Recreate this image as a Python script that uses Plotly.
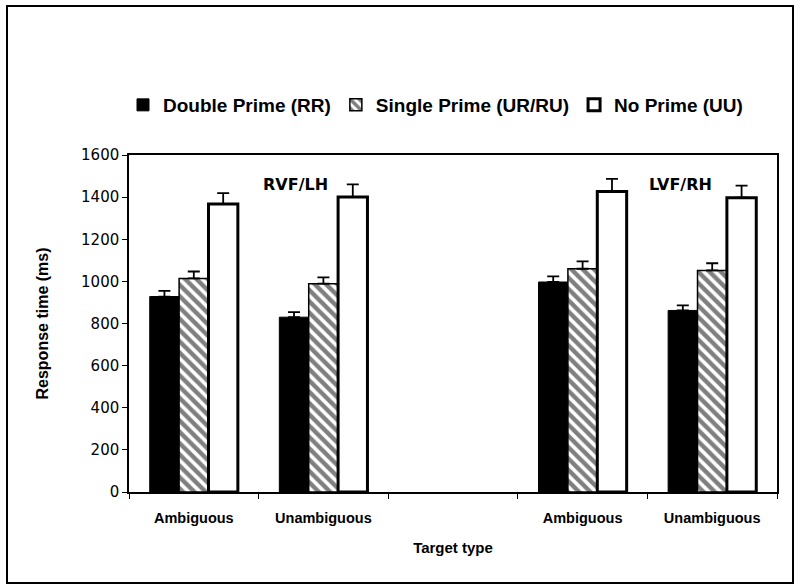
import plotly.graph_objects as go

categories = ["Ambiguous", "Unambiguous", "", "Ambiguous", "Unambiguous"]
positions = [0, 1, 3, 4]
double_prime = [928, 830, 997, 862]
double_err = [27, 24, 27, 24]
single_prime = [1014, 989, 1060, 1052]
single_err = [33, 30, 35, 34]
no_prime = [1367, 1401, 1427, 1397]
no_err = [52, 60, 60, 58]
series_names = ["Double Prime (RR)", "Single Prime (UR/RU)", "No Prime (UU)"]
y_ticks = [0, 200, 400, 600, 800, 1000, 1200, 1400, 1600]
panel_labels = ["RVF/LH", "LVF/RH"]

BOLD = "Liberation Sans, Arial, sans-serif"
VERD = "DejaVu Sans, Verdana, sans-serif"

def err(vals):
    return dict(type="data", array=vals, arrayminus=[0] * len(vals), symmetric=False,
                color="black", thickness=1.8, width=6)

fig = go.Figure()
fig.add_trace(go.Bar(x=positions, y=double_prime, name=series_names[0],
                     marker=dict(color="black", line=dict(color="black", width=1)),
                     error_y=err(double_err)))
fig.add_trace(go.Bar(x=positions, y=single_prime, name=series_names[1],
                     marker=dict(color="white", line=dict(color="black", width=1.5),
                                 pattern=dict(shape="\\", fgcolor="black", bgcolor="white",
                                              size=8, solidity=0.55)),
                     error_y=err(single_err)))
fig.add_trace(go.Bar(x=positions, y=no_prime, name=series_names[2],
                     marker=dict(color="white", line=dict(color="black", width=3)),
                     error_y=err(no_err)))

L, R, T, B = 129, 23, 155, 96
W, H = 800, 588
pw, ph = W - L - R, H - T - B
def px(xp): return (xp - L) / pw
def py(yp): return (H - B - yp) / ph

fig.add_annotation(x=px(295), y=py(184), xref="paper", yref="paper", text=panel_labels[0],
                   xanchor="center", yanchor="middle", showarrow=False,
                   font=dict(family=VERD, size=16, color="black", weight="bold"))
fig.add_annotation(x=px(680), y=py(184), xref="paper", yref="paper", text=panel_labels[1],
                   xanchor="center", yanchor="middle", showarrow=False,
                   font=dict(family=VERD, size=16, color="black", weight="bold"))

fig.add_shape(type="rect", xref="paper", yref="paper",
              x0=px(7), x1=px(793), y0=py(583), y1=py(6),
              line=dict(color="black", width=2), fillcolor="rgba(0,0,0,0)", layer="below")

fig.update_layout(
    width=W, height=H,
    margin=dict(l=L, r=R, t=T, b=B),
    paper_bgcolor="white", plot_bgcolor="white",
    barmode="group", bargap=0.32, bargroupgap=0,
    showlegend=True,
    legend=dict(orientation="h", x=px(123), xanchor="left", y=py(105), yanchor="middle",
                font=dict(family=BOLD, size=19, color="black", weight="bold"),
                itemwidth=30, tracegroupgap=0, bgcolor="rgba(0,0,0,0)"),
    xaxis=dict(range=[-0.5, 4.5], tickmode="array", tickvals=list(range(len(categories))),
               ticktext=categories, ticks="", showline=True, mirror=True,
               linecolor="black", linewidth=1.5,
               showgrid=False, zeroline=False, ticklabelstandoff=12,
               tickfont=dict(family=BOLD, size=14.5, color="black", weight="bold"),
               minor=dict(tickmode="linear", tick0=-0.5, dtick=1, ticks="outside",
                          ticklen=5, tickcolor="black", showgrid=False),
               title=dict(text="Target type", standoff=17,
                          font=dict(family=BOLD, size=15, color="black", weight="bold"))),
    yaxis=dict(range=[0, 1600], tickmode="array", tickvals=y_ticks, ticks="outside",
               ticklen=5, tickcolor="black", showline=True, mirror=True,
               linecolor="black", linewidth=1.5,
               showgrid=False, zeroline=False,
               tickfont=dict(family=VERD, size=15, color="black"),
               title=dict(text="Response time (ms)", standoff=28,
                          font=dict(family=BOLD, size=16, color="black", weight="bold"))),
)

fig.write_html("out.html", config={"displayModeBar": False},
               post_script="document.body.style.margin='0';")
